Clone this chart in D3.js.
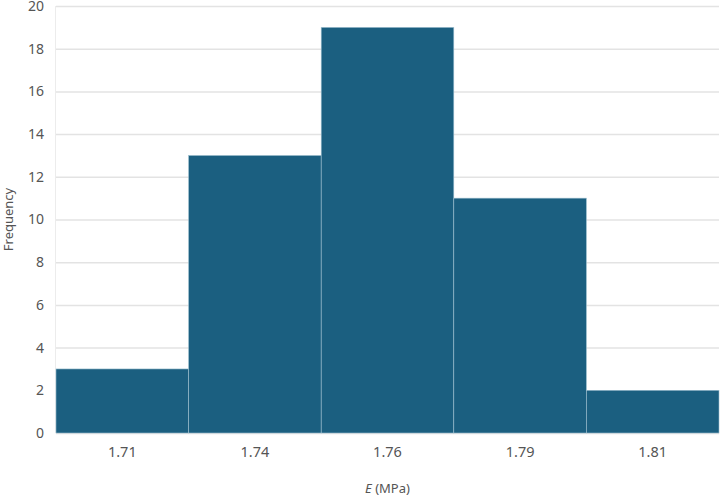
<!DOCTYPE html>
<html>
<head>
<meta charset="utf-8">
<script src="https://cdn.jsdelivr.net/npm/d3@7"></script>
<style>
  body { margin: 0; background: #fff; }
  text { font-family: "Noto Sans", "Open Sans", sans-serif; }
</style>
</head>
<body>
<div id="chart"></div>
<script>
// histogram bins (labelled by bin centre) and counts
var binLabels = ["1.71", "1.74", "1.76", "1.79", "1.81"];
var counts = [3, 13, 19, 11, 2];
var yTicks = [0, 2, 4, 6, 8, 10, 12, 14, 16, 18, 20];

var width = 721,
    height = 498;
var margin = {top: 6, right: 2, bottom: 65, left: 56};

var svg = d3.select("#chart")
    .append("svg")
    .attr("width", width)
    .attr("height", height);

var x = d3.scaleBand()
    .domain(binLabels)
    .range([margin.left, width - margin.right])
    .padding(0);

var y = d3.scaleLinear()
    .domain([0, 20])
    .range([height - margin.bottom, margin.top]);

// gridlines
svg.append("g")
    .selectAll("line")
    .data(yTicks)
    .enter().append("line")
    .attr("x1", margin.left)
    .attr("x2", width - margin.right)
    .attr("y1", function(d) { return y(d) + 0.5 })
    .attr("y2", function(d) { return y(d) + 0.5 })
    .attr("stroke", "#e3e3e3")
    .attr("stroke-width", 1.5);

// left frame line
svg.append("line")
    .attr("x1", margin.left - 0.5).attr("x2", margin.left - 0.5)
    .attr("y1", margin.top).attr("y2", y(0))
    .attr("stroke", "#ececec")
    .attr("stroke-width", 1);

// bars
svg.append("g")
    .selectAll("rect")
    .data(counts)
    .enter().append("rect")
    .attr("x", function(d, i) { return x(binLabels[i]) })
    .attr("width", x.bandwidth())
    .attr("y", function(d) { return y(d) })
    .attr("height", function(d) { return y(0) - y(d) })
    .attr("fill", "#1b5f80")
    .attr("stroke", "#9fc0d0")
    .attr("stroke-width", 0.6);

// y tick labels
svg.append("g")
    .selectAll("text")
    .data(yTicks)
    .enter().append("text")
    .attr("x", 44)
    .attr("y", function(d) { return y(d) })
    .attr("dy", "0.35em")
    .attr("text-anchor", "end")
    .style("font-size", "14px")
    .style("fill", "#555")
    .text(function(d) { return d });

// x tick labels
svg.append("g")
    .selectAll("text")
    .data(binLabels)
    .enter().append("text")
    .attr("x", function(d) { return x(d) + x.bandwidth() / 2 })
    .attr("y", 457)
    .attr("text-anchor", "middle")
    .style("font-size", "14.5px")
    .style("fill", "#555")
    .text(function(d) { return d });

// axis titles
var xt = svg.append("text")
    .attr("x", (margin.left + width - margin.right) / 2)
    .attr("y", 493)
    .attr("text-anchor", "middle")
    .style("font-size", "13px")
    .style("fill", "#555");
xt.append("tspan").style("font-style", "italic").text("E");
xt.append("tspan").text(" (MPa)");

svg.append("text")
    .attr("transform", "translate(13," + y(10) + ") rotate(-90)")
    .attr("text-anchor", "middle")
    .style("font-size", "13px")
    .style("fill", "#555")
    .text("Frequency");
</script>
</body>
</html>
